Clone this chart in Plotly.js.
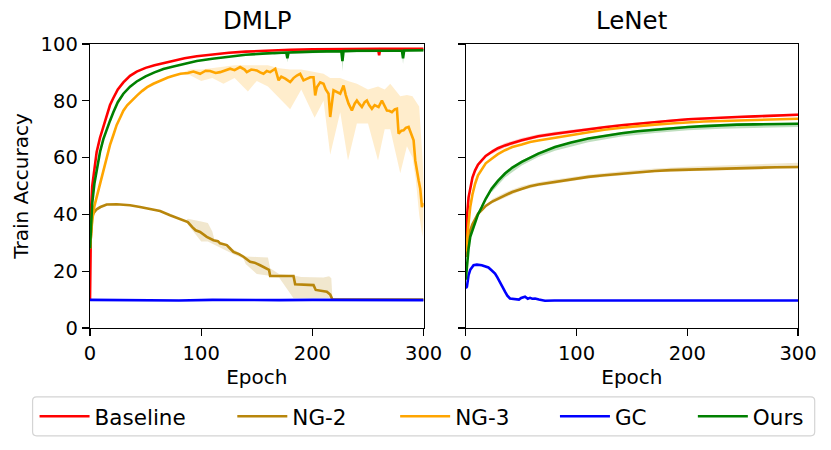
<!DOCTYPE html>
<html><head><meta charset="utf-8">
<script src="https://cdn.plot.ly/plotly-3.0.1.min.js"></script>
<style>html,body{margin:0;padding:0;background:#fff}</style>
</head><body><div id="chart" style="width:831px;height:450px"></div>
<script>
// ---------- DATA ----------
const seriesNames = ['Baseline', 'NG-2', 'NG-3', 'GC', 'Ours'];
const panelTitles = ['DMLP', 'LeNet'];
const xTicks = [0, 100, 200, 300];
const yTicks = [0, 20, 40, 60, 80, 100];

// DMLP
const dmlpBaseEp  = [0,1,2,4,6,9,12,15,18,21,25,30,36,42,50,58,66,75,85,96,110,125,140,155,170,180,200,220,240,259,260,261,280,300];
const dmlpBaseAcc = [10,42,50,57,62,67,71,75,78.5,81,84,86.5,88.8,90.3,91.6,92.5,93.3,94.2,95,95.7,96.3,96.9,97.3,97.6,97.9,98,98.1,98.2,98.2,98.3,96,98.3,98.3,98.3];

const dmlpNg2Ep  = [0,1,2,3,6,9.4,15,24,36,45,51,58,63,72,81,88,92,95,99,105,111,115,117,123,126,129,134,138,144,148,153,159,161,162,171,183,184.5,195,201,203,213,216,217.5,218,300];
const dmlpNg2Acc = [28,36,39,40.3,41.8,42.6,43.5,43.6,43.2,42.6,42.1,41.6,41.2,39.7,38.5,37.3,35.5,34.4,33.8,32.1,30.9,30.6,29.8,29.2,28,26.8,26,25.1,23.3,23,22.1,21,20.5,18.3,18.3,18.3,15.4,15.2,15.1,13.4,12.8,11.8,10.8,10,10];
const dmlpNg2BandEp    = [86,88,100,106,110,112,130,138,140,150,160,162,170,183,190,200,210,215,217,218];
const dmlpNg2BandUpper = [37.8,38.5,37.5,37,34,31,27.5,25.6,25.2,25,24.8,21,19,18.5,18,17.9,17.8,18.2,17.5,10.5];
const dmlpNg2BandLower = [37.4,36.5,30.5,30.5,29.8,29.5,25.8,24.5,22.5,19,18.5,18,17.8,10.5,10.5,10.5,10.5,10.5,10.3,10];

const dmlpNg3Ep  = [0,1,2,4,6,9,12,15.4,18,21.4,24,27.4,30,33.4,38,42.4,47,51.4,57,63.3,70,75,81.3,88,93,99,104,108,113,117,121,126,130,135,139,141,145,150,153,156,159,162,166.6,169.6,172,175.6,180,183,186,189,192,195,198,201,202.5,204,207,210,212,214.5,216,219,222,225,228,230,232.5,235.5,238,240,242,244.5,247,249,251,253.5,256,259.5,262.5,265,267,269,271.5,274,276,277.5,280,282,284,286.5,289,291,292.5,294,295.5,297,298.5,300];
const dmlpNg3Acc = [28,34,38,43,46,51,55.5,60,64.5,68.4,71.5,74.3,76.5,78.4,80.3,81.9,83.5,84.8,86,87.2,88.2,88.8,89.5,89.8,90.3,89.5,90.6,90.5,89.8,90.1,90.6,91.3,90.8,91.9,91,90.1,91,90.7,90,89.5,90.5,90.1,91.3,87.2,88.5,87.8,86.6,88,88.9,89.5,87.2,87.8,88.3,88.3,81.9,84.8,86.5,86,84,82.5,74.3,83.7,83,82.5,85.4,82,79,76.6,79,80.1,79,77.8,79.5,80.1,78.5,77.2,78.5,77.8,80.1,78,76.6,76.5,76,77,77.2,68.4,69.5,69.6,70.5,70.8,68.5,66.1,59,55,52,49,42.6,44];
const dmlpNg3BandEp    = [85,90,100,110,120,130,142,150,160,170,180,190,202,210,216,225,232,240,250,259,265,270,279,285,290,293,296,299,300];
const dmlpNg3BandUpper = [90.2,91,91,91.5,92,92.5,92.5,92.5,92.5,91.5,91,91,90,89.5,88,88,87,86,84,85,84,86,81.6,82,81.6,80,78,60,52];
const dmlpNg3BandLower = [89.2,89,87,88,86,88,83.3,87,85,81,77,84,74,80,61,76,59,72,72,59,70,70,54.5,64,60,52,40,32,38];

const dmlpGcEp  = [0,20,50,80,110,140,170,200,230,260,300];
const dmlpGcAcc = [9.9,9.8,9.9,9.7,9.9,9.8,9.8,9.9,9.8,9.9,9.8];

const dmlpOursEp  = [0,1,2,4,6,9,12,15,18,21,25,30,36,42,50,58,66,75,85,96,110,125,140,155,170,176.5,177.5,178.5,200,220,226,227,228,240,260,280,280.5,281.5,282.5,300];
const dmlpOursAcc = [28,38,44,51,56,62,66.5,70,73,76,79.5,82.5,85,86.8,88.6,90,91.2,92.1,93,94,94.8,95.6,96.2,96.6,96.9,97,95,97,97.3,97.5,97.5,94,97.5,97.6,97.7,97.7,97.7,95,97.7,97.8];
const dmlpOursBandEp    = [165,170,176.5,177.5,178.5,185,220,226,227,228,234,275,280.5,281.5,282.5,288,300];
const dmlpOursBandUpper = [97.2,97.4,97.4,97.4,97.4,97.6,97.9,97.9,97.9,97.9,97.9,98.1,98.1,98.1,98.1,98.1,98.2];
const dmlpOursBandLower = [96.2,96.4,96.5,93.5,96.5,96.6,97,97,90.5,97,97,97.2,97.2,93,97.2,97.2,97.3];

// LeNet
const lenetEp       = [0,1,2.5,4,6,8.4,11,14.4,18,23.4,29,35.4,42,50.5,58,65.5,80.5,95,110.6,125,140.7,155,170.7,185,200.8,215,231,245,261,280,300];
const lenetBaseAcc  = [30,39,46,49.7,53,55.5,57.5,59,60.6,62,63.3,64.3,65.2,66.1,66.8,67.5,68.4,69.2,69.9,70.7,71.4,72,72.5,73,73.5,73.8,74,74.3,74.5,74.8,75.1];
const lenetNg2Acc   = [25,27.4,31.5,34.4,36.5,38.5,40.2,41.5,43,44.4,45.6,46.7,47.9,49.1,49.9,50.5,51.4,52.3,53.2,53.8,54.4,54.9,55.3,55.6,55.8,56,56.1,56.3,56.5,56.6,56.7];
const lenetNg3Acc   = [27,29.8,37,42.6,47,50.8,53.8,56.1,58,59.6,61.2,62.6,63.7,64.6,65.5,66,67,68,69,69.8,70.5,71.1,71.6,72,72.4,72.7,72.9,73.1,73.3,73.5,73.7];
const lenetOursAcc  = [17,22.7,28,32.1,34.5,36.8,40,42.6,45.5,49.1,51.8,54.4,56.5,58.5,60,61.4,63.7,65.3,66.7,67.7,68.6,69.3,69.9,70.4,70.8,71.1,71.4,71.6,71.7,71.8,71.9];
const lenetGcEp     = [0,1,2.5,4,7,10,14.4,17,20.4,23,26.4,28.5,30.9,33,35.4,37.5,39.9,42,44.4,48,50,53.5,56,58,60,62.5,66,71.5,80,100,130,160,190,220,250,280,300];
const lenetGcAcc    = [14,14.5,18.6,20.5,22.1,22.3,22.1,21.8,21.3,20.4,19.2,17.8,16.3,14.6,12.8,11.4,10.4,10.3,10.2,10,10.6,11,10.3,10.6,10.3,10.4,10,9.6,9.7,9.7,9.6,9.7,9.7,9.6,9.7,9.7,9.7];

const lenetBandEp        = [23.4,35.4,50.5,65.5,80.5,110.6,140.7,170.7,200.8,231,261,300];
const lenetBaseBandUpper = [62.8,65.1,66.9,68.2,69.1,70.5,71.9,72.9,73.9,74.4,74.9,75.6];
const lenetBaseBandLower = [61.3,63.6,65.5,66.9,67.9,69.4,70.9,72.1,73.1,73.7,74.2,74.8];
const lenetNg2BandUpper  = [45.3,47.7,50,51.3,52.3,54,55.2,56.2,56.8,57.2,57.6,58.2];
const lenetNg2BandLower  = [43.8,46,48.5,49.9,50.8,52.6,53.8,54.8,55.2,55.5,55.9,56.2];
const lenetOursBandUpper = [49.6,54.9,59,61.9,64.1,67.1,69,70.3,71.2,71.8,72.1,72.3];
const lenetOursBandLower = [47.8,53,57.2,60.2,62.4,65.4,67.4,68.7,69.6,70.2,70.5,70.8];

// ---------- STYLE ----------
const colors = {'Baseline':'#ff0000','NG-2':'#b8860b','NG-3':'#ffa500','GC':'#0000ff','Ours':'#008000'};
const bandColors = {'Baseline':'rgba(255,0,0,0.2)','NG-2':'rgba(184,134,11,0.2)','NG-3':'rgba(255,165,0,0.2)','GC':'rgba(0,0,255,0.2)','Ours':'rgba(0,128,0,0.25)'};
const FONT = 'DejaVu Sans, sans-serif';
// legend slot (paper x) for each series, so entries sit like the reference's legend columns
const legendIds = {'Baseline':'legend','NG-2':'legend2','NG-3':'legend3','GC':'legend4','Ours':'legend5'};
const legendX   = {'Baseline':-0.0783,'NG-2':0.2010,'NG-3':0.4310,'GC':0.6567,'Ours':0.8515};

function band(name, ep, up, lo, xa, ya) {
  const x = ep.concat(ep.slice().reverse());
  const y = up.concat(lo.slice().reverse());
  return {x, y, xaxis:xa, yaxis:ya, type:'scatter', mode:'lines', fill:'toself',
          fillcolor: bandColors[name], line:{width:0, color: bandColors[name]},
          showlegend:false, hoverinfo:'skip'};
}
function line(name, ep, acc, xa, ya, show) {
  return {x:ep, y:acc, xaxis:xa, yaxis:ya, type:'scatter', mode:'lines', name,
          legend: legendIds[name], line:{color: colors[name], width:2.6}, showlegend: show};
}

const traces = [
  band('NG-2', dmlpNg2BandEp, dmlpNg2BandUpper, dmlpNg2BandLower, 'x', 'y'),
  band('NG-3', dmlpNg3BandEp, dmlpNg3BandUpper, dmlpNg3BandLower, 'x', 'y'),
  band('Ours', dmlpOursBandEp, dmlpOursBandUpper, dmlpOursBandLower, 'x', 'y'),
  line('Baseline', dmlpBaseEp, dmlpBaseAcc, 'x', 'y', true),
  line('NG-2', dmlpNg2Ep, dmlpNg2Acc, 'x', 'y', true),
  line('NG-3', dmlpNg3Ep, dmlpNg3Acc, 'x', 'y', true),
  line('GC', dmlpGcEp, dmlpGcAcc, 'x', 'y', true),
  line('Ours', dmlpOursEp, dmlpOursAcc, 'x', 'y', true),

  band('Baseline', lenetBandEp, lenetBaseBandUpper, lenetBaseBandLower, 'x2', 'y2'),
  band('NG-2', lenetBandEp, lenetNg2BandUpper, lenetNg2BandLower, 'x2', 'y2'),
  band('Ours', lenetBandEp, lenetOursBandUpper, lenetOursBandLower, 'x2', 'y2'),
  line('Baseline', lenetEp, lenetBaseAcc, 'x2', 'y2', false),
  line('NG-2', lenetEp, lenetNg2Acc, 'x2', 'y2', false),
  line('NG-3', lenetEp, lenetNg3Acc, 'x2', 'y2', false),
  line('GC', lenetGcEp, lenetGcAcc, 'x2', 'y2', false),
  line('Ours', lenetEp, lenetOursAcc, 'x2', 'y2', false)
];

const TICKSIZE = 19.5, LABELSIZE = 20, TITLESIZE = 24.5, LEGENDSIZE = 21.5;
const xBase = {range:[0,300], tickvals:xTicks, ticks:'outside', ticklen:7, tickwidth:1.3,
  tickcolor:'#000', showline:true, linecolor:'#000', linewidth:1.3, mirror:true,
  showgrid:false, zeroline:false, tickfont:{family:FONT, size:TICKSIZE, color:'#000'},
  title:{text:'Epoch', font:{family:FONT, size:LABELSIZE, color:'#000'}, standoff:6}};
const yBase = {range:[0,100], tickvals:yTicks, ticks:'outside', ticklen:7, tickwidth:1.3,
  tickcolor:'#000', showline:true, linecolor:'#000', linewidth:1.3, mirror:true,
  showgrid:false, zeroline:false, tickfont:{family:FONT, size:TICKSIZE, color:'#000'}};

const layout = {
  width:831, height:450,
  margin:{l:90, r:33, t:44, b:122, pad:0},
  paper_bgcolor:'#fff', plot_bgcolor:'#fff',
  font:{family:FONT, color:'#000'},
  xaxis:Object.assign({}, xBase, {domain:[0,0.4712], anchor:'y'}),
  xaxis2:Object.assign({}, xBase, {domain:[0.5308,1], anchor:'y2'}),
  yaxis:Object.assign({}, yBase, {anchor:'x', title:{text:'Train Accuracy', font:{family:FONT, size:LABELSIZE, color:'#000'}, standoff:6}}),
  yaxis2:Object.assign({}, yBase, {anchor:'x2', matches:'y', showticklabels:false}),
  annotations:[
    {text:panelTitles[0], xref:'paper', yref:'paper', x:0.2356, y:1, xanchor:'center', yanchor:'bottom', yshift:7, showarrow:false, font:{family:FONT, size:TITLESIZE, color:'#000'}},
    {text:panelTitles[1], xref:'paper', yref:'paper', x:0.7654, y:1, xanchor:'center', yanchor:'bottom', yshift:7, showarrow:false, font:{family:FONT, size:TITLESIZE, color:'#000'}}
  ],
  // legend frame (rounded box like the reference)
  shapes:[{type:'path', xref:'paper', yref:'paper', layer:'below',
    path:'M -0.0755,-0.2425 L 1.018,-0.2425 Q 1.0236,-0.2425 1.0236,-0.2565 L 1.0236,-0.3656 Q 1.0236,-0.3796 1.018,-0.3796 L -0.0755,-0.3796 Q -0.0811,-0.3796 -0.0811,-0.3656 L -0.0811,-0.2565 Q -0.0811,-0.2425 -0.0755,-0.2425 Z',
    line:{color:'#d4d4d4', width:1.2}, fillcolor:'rgba(255,255,255,0.8)'}],
  showlegend:true
};
seriesNames.forEach(function(n){
  layout[legendIds[n]] = {orientation:'h', x:legendX[n], y:-0.311, xanchor:'left', yanchor:'middle',
    borderwidth:0, bgcolor:'rgba(0,0,0,0)', itemwidth:50,
    font:{family:FONT, size:LEGENDSIZE, color:'#000'}};
});

Plotly.newPlot('chart', traces, layout, {displayModeBar:false, staticPlot:true});
</script>
</body></html>
